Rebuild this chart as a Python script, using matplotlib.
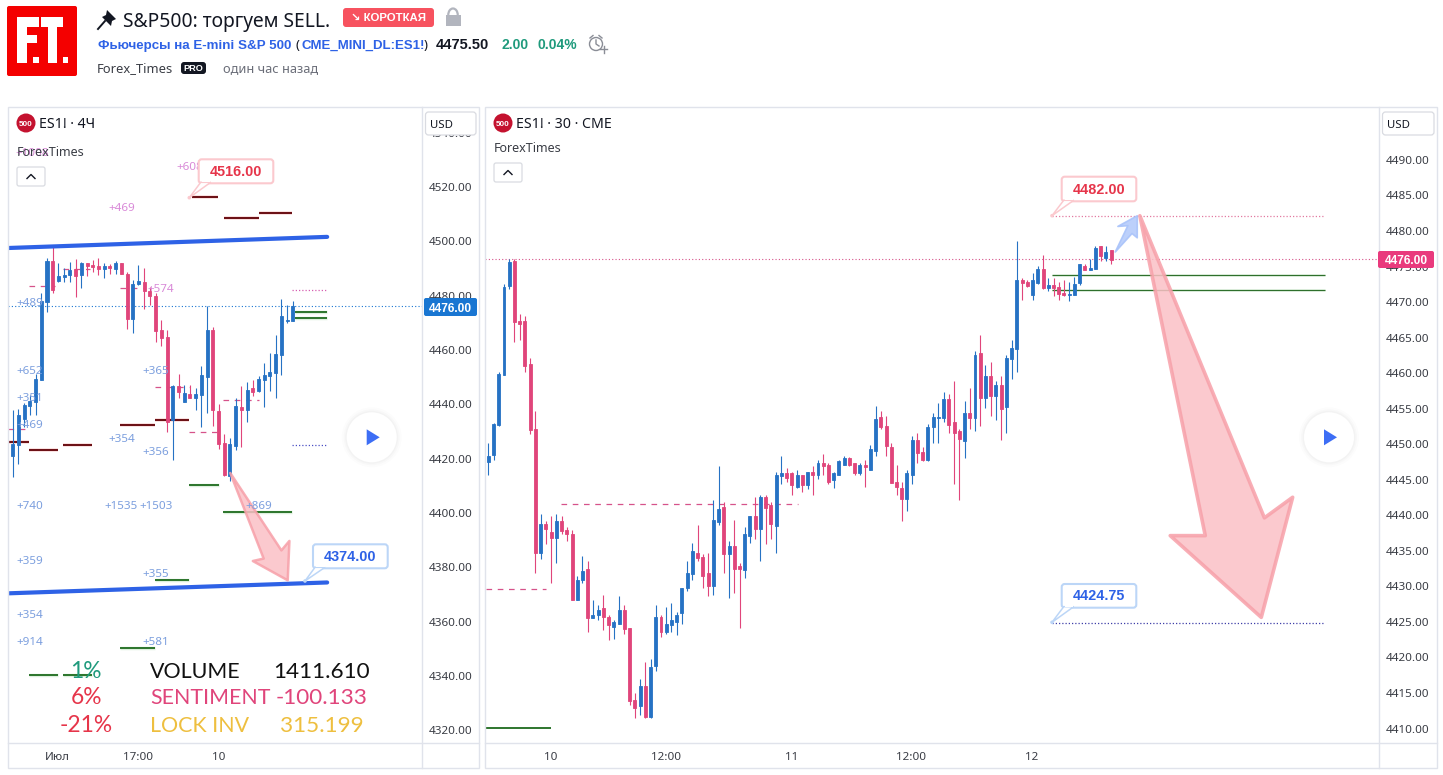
"""
plot.py - two ES1! candlestick panels with the trading idea header
"""
import matplotlib
matplotlib.use('Agg')
import matplotlib.pyplot as plt
from matplotlib.patches import Rectangle, FancyBboxPatch, Polygon, Circle, Arc
from matplotlib.transforms import Affine2D

plt.rcParams['font.family'] = ['Noto Sans', 'DejaVu Sans']

W, H = 1443, 775

#============================================
#                  data
#============================================
# 4h panel
left_open = [4420.6, 4424.6, 4434.4, 4439.0, 4440.4, 4448.6, 4477.3, 4492.4, 4484.9, 4486.5,
             4487.2, 4489.3, 4487.2, 4491.7, 4490.9, 4490.5, 4489.4, 4490.5, 4489.4, 4491.7,
             4487.6, 4471.0, 4483.9, 4484.7, 4481.3, 4479.5, 4467.0, 4464.4, 4433.8, 4446.3,
             4440.4, 4443.4, 4441.9, 4443.0, 4449.7, 4467.0, 4437.1, 4425.3, 4413.2, 4424.2,
             4438.6, 4437.5, 4445.6, 4444.5, 4448.6, 4450.0, 4451.1, 4457.8, 4470.3, 4470.3]
left_high = [4437.5, 4437.9, 4440.2, 4443.0, 4450.8, 4480.5, 4493.4, 4497.9, 4491.5, 4489.7,
             4491.9, 4493.1, 4492.0, 4491.7, 4492.8, 4493.5, 4491.5, 4491.3, 4492.4, 4491.7,
             4488.5, 4485.4, 4490.9, 4489.8, 4482.9, 4480.5, 4470.6, 4467.0, 4446.7, 4450.8,
             4446.7, 4446.7, 4445.6, 4453.7, 4475.8, 4468.0, 4439.7, 4428.7, 4427.2, 4441.9,
             4446.3, 4447.8, 4448.6, 4450.0, 4454.8, 4458.5, 4465.1, 4478.4, 4476.2, 4477.6]
left_low = [4412.9, 4417.6, 4431.4, 4435.7, 4435.7, 4448.6, 4473.6, 4480.5, 4484.8, 4484.8,
            4484.7, 4479.2, 4482.4, 4486.9, 4488.5, 4487.2, 4486.1, 4487.8, 4487.8, 4487.6,
            4467.3, 4465.9, 4483.5, 4474.7, 4476.2, 4462.7, 4461.1, 4429.4, 4419.1, 4441.9,
            4440.4, 4441.9, 4437.5, 4431.2, 4436.4, 4431.6, 4423.1, 4413.2, 4411.4, 4422.8,
            4423.9, 4433.1, 4442.7, 4444.1, 4438.6, 4444.5, 4441.9, 4450.4, 4469.5, 4470.3]
left_close = [4425.0, 4435.7, 4439.3, 4440.8, 4448.9, 4477.6, 4492.4, 4481.7, 4486.9, 4487.2,
              4489.1, 4486.9, 4491.7, 4490.5, 4490.3, 4489.4, 4490.5, 4490.0, 4491.7, 4487.6,
              4471.0, 4483.9, 4485.0, 4481.3, 4479.5, 4466.6, 4464.0, 4433.2, 4446.3, 4444.1,
              4443.8, 4441.9, 4443.4, 4450.4, 4467.0, 4437.5, 4425.0, 4413.6, 4425.0, 4439.0,
              4437.5, 4444.9, 4444.1, 4448.9, 4450.4, 4451.5, 4458.1, 4472.1, 4470.6, 4475.8]

left_y_ticks = [4540, 4520, 4500, 4480, 4460, 4440, 4420, 4400, 4380, 4360, 4340, 4320]
left_x_ticks = [7.85, 21.9, 35.95]
left_x_labels = ['Июл', '17:00', '10']

# level segments: first bar, last bar, price
left_red_levels = [(-0.9, 2.86, 4425.8), (2.86, 7.88, 4422.9), (8.87, 13.83, 4424.8),
                   (18.84, 24.9, 4431.9), (24.9, 30.9, 4433.8), (31.4, 35.96, 4516.0),
                   (37.0, 43.0, 4508.2), (43.0, 48.9, 4510.0)]
left_green_levels = [(30.9, 36.0, 4409.9), (36.8, 48.9, 4400.0), (24.9, 30.9, 4374.9),
                     (18.8, 24.9, 4349.8), (2.85, 7.9, 4339.9), (8.8, 13.9, 4339.9),
                     (49.3, 55.0, 4473.6), (49.3, 55.0, 4471.4)]
left_dash_levels = [(2.85, 7.4, 4483.2), (8.8, 13.5, 4489.4), (18.8, 22.8, 4482.4),
                    (24.9, 30.9, 4446.0), (30.9, 35.8, 4429.4), (36.8, 43.0, 4441.2),
                    (-0.8, 2.85, 4430.5)]
left_channel_top = [(-0.82, 4497.2), (55.0, 4501.3)]
left_channel_bottom = [(-0.82, 4370.1), (55.0, 4374.1)]
left_arrow = [(38.05, 4414.4), (43.9, 4382.9), (42.0, 4382.0), (48.1, 4374.9), (48.4, 4389.4), (47.0, 4385.9)]

# 30m panel
right_open = [4447.3, 4448.3, 4452.5, 4459.6, 4472.1, 4475.7, 4467.2, 4467.2, 4461.1, 4452.0,
              4434.5, 4438.7, 4437.5, 4436.6, 4439.0, 4437.8, 4437.2, 4428.0, 4430.8, 4432.3,
              4425.4, 4425.8, 4426.8, 4425.5, 4424.1, 4424.6, 4426.5, 4424.0, 4413.9, 4413.1,
              4415.8, 4411.5, 4418.6, 4425.5, 4423.5, 4424.4, 4424.8, 4426.1, 4429.6, 4431.6,
              4434.6, 4434.0, 4431.7, 4429.9, 4438.9, 4441.0, 4434.4, 4435.5, 4432.7, 4432.1,
              4437.0, 4439.7, 4437.9, 4442.4, 4441.3, 4438.3, 4445.4, 4445.8, 4445.8, 4443.8,
              4445.5, 4444.1, 4445.9, 4445.6, 4447.2, 4446.9, 4444.8, 4445.6, 4447.0, 4447.9,
              4447.2, 4445.8, 4446.9, 4446.3, 4448.9, 4453.7, 4452.4, 4449.4, 4444.6, 4443.7,
              4442.1, 4445.6, 4450.4, 4448.7, 4447.6, 4452.3, 4453.5, 4453.5, 4456.2, 4453.0,
              4451.7, 4450.3, 4454.2, 4453.5, 4462.7, 4456.3, 4459.4, 4456.6, 4458.2, 4455.1,
              4461.8, 4463.2, 4473.0, 4472.7, 4470.8, 4472.5, 4474.5, 4471.8, 4472.3, 4472.0,
              4471.1, 4470.8, 4470.8, 4472.5, 4474.9, 4474.4, 4474.5, 4477.8, 4476.1, 4477.2]
right_high = [4450.1, 4452.9, 4460.0, 4472.4, 4475.9, 4475.9, 4468.2, 4467.9, 4462.0, 4454.6,
              4440.1, 4439.0, 4439.7, 4440.0, 4439.7, 4438.2, 4437.8, 4431.3, 4434.2, 4433.5,
              4428.0, 4427.2, 4428.7, 4425.8, 4425.1, 4428.5, 4427.2, 4424.0, 4414.8, 4416.8,
              4419.2, 4419.7, 4427.2, 4425.8, 4426.9, 4427.5, 4426.3, 4429.7, 4433.5, 4435.9,
              4438.5, 4434.4, 4434.5, 4442.0, 4446.8, 4441.8, 4436.2, 4439.2, 4433.2, 4438.2,
              4439.7, 4442.4, 4442.7, 4442.7, 4441.7, 4445.9, 4448.2, 4446.5, 4445.9, 4446.2,
              4445.5, 4445.9, 4446.8, 4447.7, 4448.5, 4447.2, 4445.9, 4447.7, 4448.2, 4448.0,
              4447.2, 4447.2, 4447.7, 4449.7, 4455.2, 4454.5, 4453.9, 4450.0, 4446.9, 4444.5,
              4446.2, 4451.0, 4451.4, 4449.4, 4452.7, 4454.2, 4455.6, 4457.2, 4456.9, 4458.7,
              4452.0, 4455.9, 4457.7, 4463.0, 4465.2, 4461.0, 4461.4, 4458.7, 4459.4, 4462.4,
              4464.5, 4478.5, 4473.2, 4473.0, 4473.9, 4474.9, 4476.5, 4473.2, 4473.2, 4472.7,
              4473.0, 4472.7, 4473.4, 4475.2, 4475.2, 4475.9, 4477.8, 4477.8, 4477.8, 4477.2]
right_low = [4445.5, 4447.7, 4452.4, 4459.6, 4471.7, 4464.2, 4464.5, 4460.0, 4451.3, 4431.7,
             4433.7, 4435.8, 4430.4, 4433.2, 4437.2, 4436.2, 4428.0, 4428.0, 4430.3, 4423.5,
             4425.4, 4425.2, 4423.7, 4422.3, 4422.5, 4424.6, 4423.2, 4413.2, 4411.3, 4411.7,
             4411.3, 4411.4, 4418.0, 4422.7, 4423.2, 4423.5, 4423.0, 4424.5, 4429.2, 4430.7,
             4433.5, 4429.7, 4428.5, 4428.7, 4438.5, 4431.7, 4428.2, 4429.0, 4424.0, 4431.0,
             4435.9, 4436.5, 4433.5, 4435.8, 4436.5, 4434.6, 4444.2, 4444.6, 4442.7, 4443.7,
             4443.2, 4443.5, 4442.7, 4444.9, 4445.5, 4444.2, 4443.7, 4445.5, 4446.9, 4446.8,
             4445.5, 4445.5, 4443.9, 4446.3, 4448.2, 4452.0, 4448.2, 4444.4, 4442.7, 4439.0,
             4440.4, 4444.2, 4447.2, 4447.5, 4447.5, 4450.1, 4450.1, 4453.0, 4451.4, 4444.2,
             4442.0, 4447.9, 4452.0, 4451.7, 4452.4, 4454.9, 4453.9, 4453.2, 4450.4, 4451.4,
             4459.0, 4460.0, 4470.1, 4472.0, 4470.1, 4472.4, 4471.7, 4471.4, 4470.7, 4470.1,
             4470.7, 4470.0, 4470.8, 4472.3, 4474.4, 4474.4, 4474.5, 4475.6, 4475.6, 4475.2]
right_close = [4448.2, 4452.7, 4459.7, 4472.0, 4475.5, 4467.0, 4466.8, 4460.8, 4451.8, 4434.6,
               4438.7, 4437.9, 4436.6, 4439.0, 4437.6, 4437.3, 4428.0, 4430.7, 4432.0, 4425.4,
               4425.8, 4426.5, 4425.6, 4424.4, 4424.8, 4426.5, 4423.8, 4413.8, 4412.8, 4415.8,
               4411.5, 4418.5, 4425.5, 4423.4, 4424.5, 4425.2, 4425.9, 4429.7, 4431.7, 4434.9,
               4433.8, 4431.3, 4429.9, 4439.2, 4440.7, 4434.4, 4435.5, 4432.3, 4432.3, 4437.2,
               4439.7, 4438.0, 4442.4, 4440.9, 4438.6, 4445.5, 4445.8, 4445.1, 4444.1, 4445.5,
               4444.1, 4445.9, 4445.6, 4447.2, 4446.8, 4444.5, 4445.8, 4447.5, 4447.9, 4447.0,
               4445.8, 4446.9, 4446.6, 4449.2, 4453.4, 4452.3, 4449.6, 4444.4, 4443.8, 4442.1,
               4445.8, 4450.4, 4448.6, 4447.6, 4452.3, 4453.7, 4453.7, 4456.2, 4452.5, 4451.5,
               4450.6, 4454.2, 4453.5, 4462.4, 4456.3, 4459.4, 4456.6, 4458.2, 4454.8, 4462.0,
               4463.4, 4473.0, 4472.5, 4472.1, 4473.0, 4474.5, 4471.8, 4472.3, 4471.8, 4471.0,
               4470.8, 4471.0, 4472.4, 4475.2, 4474.4, 4474.6, 4477.5, 4476.3, 4476.9, 4475.8]

right_y_ticks = [4490, 4485, 4480, 4475, 4470, 4465, 4460, 4455, 4450, 4445,
                 4440, 4435, 4430, 4425, 4420, 4415, 4410]
right_x_ticks = [12, 34, 57.9, 80.8, 103.8]
right_x_labels = ['10', '12:00', '11', '12:00', '12']

right_dash_levels = [(-0.5, 11.1, 4429.5), (13.9, 59.2, 4441.5)]
right_green_levels = [(107.8, 159.8, 4473.7), (107.8, 159.8, 4471.5)]
right_bottom_level = (-0.6, 12.0, 4410.0)
right_target_up = (107.8, 159.8, 4482.0)
right_target_down = (107.8, 159.8, 4424.75)
right_arrow = [(124.5, 4482.0), (137.0, 4437.0), (130.3, 4437.0), (147.7, 4425.5), (153.7, 4442.4), (148.3, 4439.5)]
right_small_arrow = [(124.0, 4482.0), (120.3, 4480.5), (122.2, 4480.6), (119.8, 4476.9), (123.0, 4479.5), (124.0, 4478.9)]

last_price = 4476.0

stat_pct = ['1%', '6%', '-21%']
stat_names = ['VOLUME', 'SENTIMENT', 'LOCK INV']
stat_values = ['1411.610', '-100.133', '315.199']

#============================================
#                  colors
#============================================
UP = '#2672c4'
DOWN = '#e0457b'
BORDER = '#e0e3eb'
TICK = '#3a3d45'
BLUE = '#2e62e6'
RED = '#e6354a'
GREEN = '#1f9a7c'
AMBER = '#eebf3f'
LABEL_BLUE = '#7c9fde'
LABEL_PINK = '#d98ad8'
ARROW_RED = '#f7a0a9'
ARROW_FILL = '#fbc0c6'


#============================================
#                 candles
#============================================
def candles(ax, o, h, l, c, width):
    # Wicks first, then the bodies on top
    for i in range(len(o)):
        col = UP if c[i] >= o[i] else DOWN
        ax.vlines(i, l[i], h[i], color=col, lw=0.8, zorder=3)
        ax.bar(i, abs(c[i] - o[i]), bottom=min(o[i], c[i]), width=width, color=col,
               edgecolor=col, linewidth=0.6, zorder=4)


def levels(ax, segs, color, lw, halo=None, **kw):
    for x0, x1, y in segs:
        if halo:
            ax.plot([x0, x1], [y, y], color=halo, lw=lw + 1.2, alpha=0.5, zorder=2, solid_capstyle='butt')
        ax.plot([x0, x1], [y, y], color=color, lw=lw, zorder=2, solid_capstyle='butt', **kw)


def chart_axes(x0, x1, y0, y1, xlim, ylim, yticks, xticks, xlabels):
    ax = fig.add_axes([x0 / W, 1 - y1 / H, (x1 - x0) / W, (y1 - y0) / H])
    ax.set_xlim(*xlim)
    ax.set_ylim(*ylim)
    ax.yaxis.tick_right()
    ax.set_yticks(yticks)
    ax.set_yticklabels(['%.2f' % t for t in yticks], va='center_baseline')
    ax.set_xticks(xticks)
    ax.set_xticklabels(xlabels)
    ax.tick_params(axis='y', length=0, pad=5.4, labelsize=8.4, labelcolor=TICK)
    ax.tick_params(axis='x', length=0, pad=6.6, labelsize=8.4, labelcolor=TICK)
    # price labels sit one pixel low in the original
    for tk in ax.yaxis.get_major_ticks():
        tk.label2.set_transform(tk.label2.get_transform() + Affine2D().translate(0, -1))
    for s in ax.spines.values():
        s.set_visible(False)
    return ax


fig = plt.figure(figsize=(W / 100, H / 100), dpi=100, facecolor='white')

#============================================
#               left panel (4h)
#============================================
ax1 = chart_axes(8, 421.5, 107, 742.5, (-0.82, 71.5), (4315.2, 4549.1),
                 left_y_ticks, left_x_ticks, left_x_labels)
levels(ax1, left_red_levels, '#6a0d12', 1.4, halo='#f4b8b8')
levels(ax1, left_green_levels, '#1d6a1d', 1.3, halo='#bfe3bf')
levels(ax1, left_dash_levels, '#d6528a', 0.9, dashes=(4.5, 4.5))
levels(ax1, [(48.9, 55.0, 4481.7)], '#d65fb0', 0.9, dashes=(1, 1.6))
levels(ax1, [(48.9, 55.0, 4424.6)], '#4b4fc4', 0.9, dashes=(1, 1.6))
ax1.axhline(last_price, color='#1976d2', lw=0.8, dashes=(1, 2), zorder=2)
candles(ax1, left_open, left_high, left_low, left_close, 0.53)
for seg in (left_channel_top, left_channel_bottom):
    ax1.plot([p[0] for p in seg], [p[1] for p in seg], color=BLUE, lw=3, zorder=5,
             solid_capstyle='round')
ax1.add_patch(Polygon(left_arrow, closed=True, facecolor=ARROW_FILL, edgecolor=ARROW_RED,
                      lw=1.8, alpha=0.85, zorder=5, joinstyle='round'))

#============================================
#               right panel (30m)
#============================================
ax2 = chart_axes(485, 1378.5, 107, 742.5, (-0.63, 170.1), (4407.9, 4497.3),
                 right_y_ticks, right_x_ticks, right_x_labels)
levels(ax2, right_dash_levels, '#d6528a', 0.9, dashes=(4.5, 4.5))
levels(ax2, right_green_levels, '#2f6f2c', 0.8, halo='#bfe3bf')
levels(ax2, [right_bottom_level], '#1d6a1d', 1.3)
levels(ax2, [right_target_up], '#e27aa0', 0.9, dashes=(1, 1.6))
levels(ax2, [right_target_down], '#3f3fa8', 0.9, dashes=(1, 1.6))
ax2.axhline(last_price - 0.1, color='#d6528a', lw=0.8, dashes=(1, 2), zorder=2)
candles(ax2, right_open, right_high, right_low, right_close, 0.57)
ax2.add_patch(Polygon(right_arrow, closed=True, facecolor=ARROW_FILL, edgecolor=ARROW_RED,
                      lw=2.6, alpha=0.85, zorder=5, joinstyle='round'))
ax2.add_patch(Polygon(right_small_arrow, closed=True, facecolor='#b5cbfb', edgecolor='#a9c3fa',
                      lw=1.2, alpha=0.9, zorder=5, joinstyle='round'))

#============================================
#      overlay in pixel coords (chrome)
#============================================
ov = fig.add_axes([0, 0, 1, 1], zorder=10)
ov.set_xlim(0, W)
ov.set_ylim(H, 0)
ov.axis('off')
ov.patch.set_alpha(0)


def txt(x, y, s, size, color='#131722', ha='left', weight='normal', **kw):
    # Noto Sans here has no real bold, Liberation does
    if weight == 'bold':
        kw.setdefault('family', ['Liberation Sans', 'DejaVu Sans'])
    ov.text(x, y, s, fontsize=size, color=color, ha=ha, va='center_baseline', fontweight=weight, **kw)


def box(x0, y0, x1, y1, face, edge='none', lw=1.0, r=3, z=2):
    ov.add_patch(FancyBboxPatch((x0, y0), x1 - x0, y1 - y0, boxstyle='round,pad=0,rounding_size=%g' % r,
                                facecolor=face, edgecolor=edge, lw=lw, zorder=z))


def callout(x0, y0, x1, y1, tip, s, color, edge):
    box(x0, y0, x1, y1, 'white', edge, 1.5, 3, 6)
    # little pointer down to the anchor point
    ov.add_patch(Polygon([(x0 + 2, y1 - 1), tip, (x0 + 12, y1 - 1)], closed=True, facecolor='white',
                         edgecolor=edge, lw=1.1, zorder=6))
    ov.add_patch(Rectangle((x0 + 3, y1 - 3), 8.5, 2, facecolor='white', edgecolor='none', zorder=7))
    ov.add_patch(Circle(tip, 1.8, facecolor=edge, edgecolor='none', zorder=7))
    txt((x0 + x1) / 2, (y0 + y1) / 2 - 1, s, 10.4, color, ha='center', weight='bold', zorder=8)


def play(cx, cy):
    for r, a in ((30, 0.012), (28, 0.015), (26.5, 0.02)):
        ov.add_patch(Circle((cx, cy), r, facecolor='black', edgecolor='none', alpha=a, zorder=6))
    ov.add_patch(Circle((cx, cy), 25, facecolor='white', edgecolor='none', zorder=6))
    ov.add_patch(Polygon([(cx - 5, cy - 8), (cx + 8, cy), (cx - 5, cy + 8)], closed=True,
                         facecolor='#3d6ef5', edgecolor='none', zorder=7))


def collapse(x0, y0):
    box(x0, y0, x0 + 28, y0 + 19, 'white', '#d9dbe1', 0.9, 2, 6)
    ov.plot([x0 + 10, x0 + 14, x0 + 18], [y0 + 11.5, y0 + 7.5, y0 + 11.5], color='#131722', lw=1, zorder=7)


def badge500(cx, cy):
    ov.add_patch(Circle((cx, cy), 9.5, facecolor='#c4122f', edgecolor='none', zorder=6))
    txt(cx, cy, '500', 5.8, 'white', ha='center', weight='bold', zorder=7)


# panel frames
for x0, x1, xp in ((8, 479, 421.5), (485, 1437, 1378.5)):
    ov.add_patch(Rectangle((x0, 106.5), x1 - x0, 661.5, facecolor='none', edgecolor=BORDER, lw=1, zorder=1))
    ov.plot([xp, xp], [106.5, 768], color=BORDER, lw=1, zorder=1)
    ov.plot([x0, x1], [742.5, 742.5], color=BORDER, lw=1, zorder=1)

# header: logo is a picture in the original, so blocks rather than type
box(7, 6, 77, 76, '#f40000', r=2)
for r in ((16.7, 16.7, 10, 46.6), (16.7, 16.7, 22.6, 10.6), (16.7, 35, 20.6, 8.3), (33.3, 57.3, 6, 6),
          (40.7, 16.7, 22.3, 10.6), (48.3, 16.7, 9, 46.6), (62.7, 57.3, 5.6, 6)):
    ov.add_patch(Rectangle((r[0], r[1]), r[2], r[3], facecolor='white', edgecolor='none', zorder=3))

# pin
ov.add_patch(Polygon([(107, 10), (116, 19), (112, 21), (111, 26), (102, 17), (106, 15)], closed=True,
                     facecolor='#131722', edgecolor='none'))
ov.plot([98, 105], [29, 21], color='#131722', lw=1.4)
txt(123, 19, 'S&P500: торгуем SELL.', 13.9)
box(343, 8, 434, 27, '#f7525f', r=3)
txt(388.5, 17, '↘ КОРОТКАЯ', 8.2, 'white', ha='center', weight='bold', zorder=3)
# lock
ov.add_patch(Rectangle((445.5, 15), 15, 10.5, facecolor='#b2b5be', edgecolor='none'))
ov.add_patch(Arc((453, 15), 9.5, 13, theta1=180, theta2=360, edgecolor='#b2b5be', lw=1.6))

txt(98, 44, 'Фьючерсы на E-mini S&P 500', 9.6, BLUE, weight='bold')
txt(295, 44, '(', 9.5, '#131722')
txt(301, 44, 'CME_MINI_DL:ES1!', 9.5, BLUE, weight='bold')
txt(424, 44, ')', 9.5, '#131722')
txt(436, 43.5, '4475.50', 10.5, '#131722', weight='bold')
txt(501, 43.5, '2.00', 10, GREEN, weight='bold')
txt(538, 43.5, '0.04%', 10, GREEN, weight='bold')
# alarm clock icon
ov.add_patch(Circle((596, 44), 6.5, facecolor='none', edgecolor='#8a8d96', lw=1))
ov.plot([596, 596, 599], [40, 44, 46], color='#8a8d96', lw=1)
ov.plot([590, 593], [38, 35.5], color='#8a8d96', lw=1)
ov.plot([599, 602], [35.5, 38], color='#8a8d96', lw=1)
ov.plot([600, 607], [49, 49], color='#8a8d96', lw=1)
ov.plot([603.5, 603.5], [45.5, 52.5], color='#8a8d96', lw=1)

txt(97, 67, 'Forex_Times', 9.3, '#3a3d45')
box(181, 62, 206, 74, '#131722', r=3)
txt(193.5, 67.5, 'PRO', 6.6, 'white', ha='center', weight='bold', zorder=3)
txt(223, 67, 'один час назад', 9.2, '#6a6d78')

# panel legends
badge500(26, 123)
txt(39, 123, 'ES1! · 4Ч', 10.2, zorder=7)
txt(17, 151, 'ForexTimes', 9, '#3a3d45', zorder=7)
collapse(17, 167)
badge500(503, 123)
txt(516, 123, 'ES1! · 30 · CME', 10.2, zorder=7)
txt(494, 147, 'ForexTimes', 9, '#3a3d45', zorder=7)
collapse(494, 163)

# currency boxes sit on top of the clipped price labels
for x0, x1 in ((425.5, 476), (1382.5, 1434)):
    box(x0, 112, x1, 135, 'white', '#d9dbe1', 0.9, 3, 6)
    txt(x0 + 4.5, 123.5, 'USD', 8.2, '#131722', zorder=7)

# last price tags
box(424, 298, 477, 316, '#1976d2', r=2, z=6)
txt(450.5, 307, '4476.00', 8.6, 'white', ha='center', weight='bold', zorder=7)
box(1378, 251, 1434, 268, '#e93a7d', r=2, z=6)
txt(1406, 259.5, '4476.00', 8.6, 'white', ha='center', weight='bold', zorder=7)

# callouts
callout(198.7, 159.3, 273.3, 183.3, (189.3, 197.7), '4516.00', RED, '#fbc9ce')
callout(313, 544.3, 387.7, 568.3, (305, 581), '4374.00', BLUE, '#bcd6f7')
callout(1061.7, 176.7, 1136.3, 201.3, (1052, 215.7), '4482.00', RED, '#fbc9ce')
callout(1061.7, 584, 1136.3, 607.7, (1052, 622.3), '4424.75', BLUE, '#bcd6f7')

play(371.7, 437.3)
play(1329, 437.3)

# trade count labels on the 4h panel
for x, y, s in ((15, 152, '+1008'), (176, 166, '+608'), (108, 207, '+469'), (147, 288, '+574')):
    txt(x, y, s, 8.4, LABEL_PINK, zorder=5)
for x, y, s in ((16, 302, '+489'), (16, 370, '+652'), (16, 397, '+351'), (16, 424, '+469'),
                (108, 438, '+354'), (142, 370, '+365'), (142, 451, '+356'), (16, 505, '+740'),
                (104, 505, '+1535'), (139, 505, '+1503'), (245, 505, '+869'), (16, 560, '+359'),
                (142, 573, '+355'), (16, 614, '+354'), (16, 641, '+914'), (142, 641, '+581')):
    txt(x, y, s, 8.4, LABEL_BLUE, zorder=5)

# statistics block
for y, pct, col in zip((670, 696, 724), stat_pct, (GREEN, RED, RED)):
    txt(86, y, pct, 16.4, col, ha='center', family='Lato')
for y, name, val, col in zip((670, 696, 724), stat_names, stat_values, ('#111111', DOWN, AMBER)):
    txt(150, y, name, 15.4, col, family='Lato')
    txt(321.5, y, val, 16.2, col, ha='center', family='Lato')

plt.savefig('out.png', dpi=100)
